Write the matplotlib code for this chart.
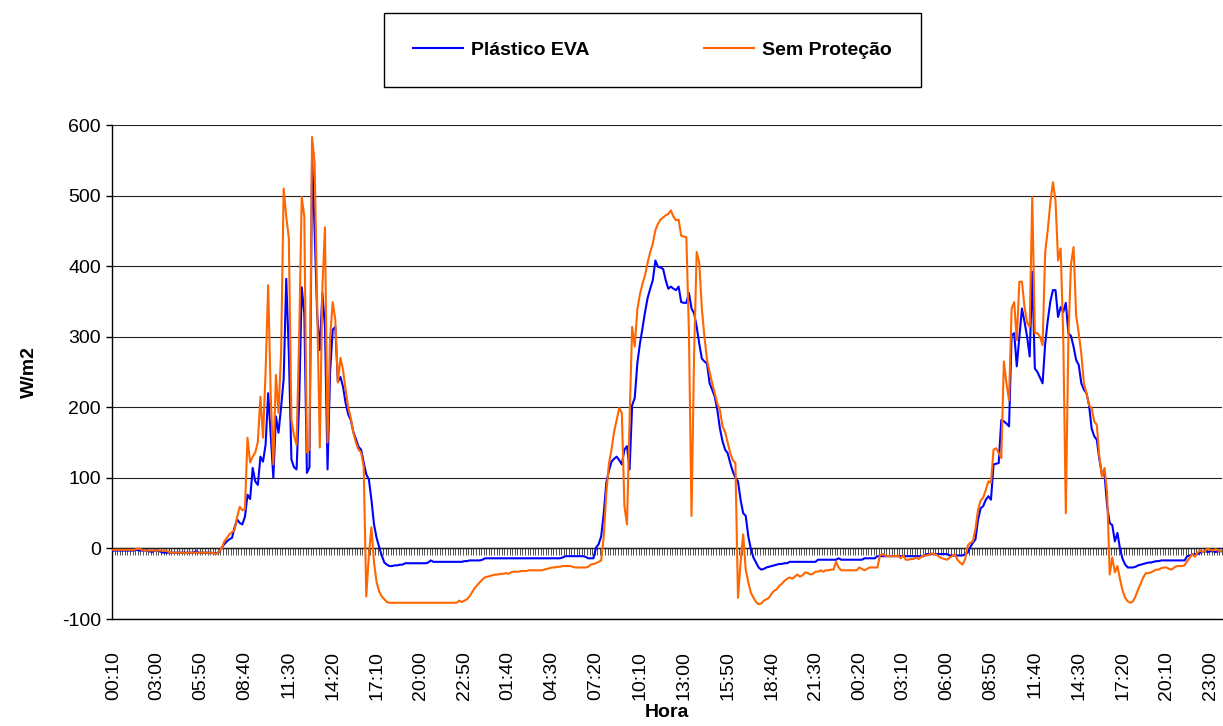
import matplotlib
matplotlib.use("Agg")
import matplotlib.pyplot as plt
import numpy as np

plt.rcParams['font.family'] = ['Liberation Sans', 'DejaVu Sans']
plt.rcParams['axes.unicode_minus'] = False

# rotulos do eixo X (um a cada 17 leituras de 10 min)
tick_labels = ["00:10", "03:00", "05:50", "08:40", "11:30", "14:20", "17:10",
               "20:00", "22:50", "01:40", "04:30", "07:20", "10:10", "13:00",
               "15:50", "18:40", "21:30", "00:20", "03:10", "06:00", "08:50",
               "11:40", "14:30", "17:20", "20:10", "23:00"]

# radiacao (W/m2) com plastico EVA, uma leitura a cada 10 min
plastico_eva = [
    -3, -3, -3, -3, -3, -3,   -3, -3, -3, -2, -3, -3,   -3, -3, -4, -5, -3, -3,
    -4, -6, -6, -6, -6, -6,   -6, -6, -6, -6, -6, -6,   -6, -6, -4, -6, -6, -6,
    -6, -6, -6, -7, -7, -5,   1, 6, 10, 13, 15, 30,     41, 36, 34, 45, 76, 70,
    114, 95, 90, 130, 123, 147,   220, 160, 100, 187, 164, 200,
    240, 382, 277, 126, 115, 112,   206, 370, 333, 107, 115, 554,
    450, 330, 281, 362, 314, 112,   250, 310, 314, 236, 243, 229,
    206, 190, 182, 165, 155, 144,   140, 122, 105, 98, 69, 34,
    15, 2, -10, -20, -23, -25,   -25, -24, -24, -23, -23, -21,
    -21, -21, -21, -21, -21, -21,   -21, -21, -20, -17, -19, -19,
    -19, -19, -19, -19, -19, -19,   -19, -19, -19, -19, -18, -18,
    -17, -17, -17, -17, -17, -16,   -14, -14, -14, -14, -14, -14,
    -14, -14, -14, -14, -14, -14,   -14, -14, -14, -14, -14, -14,
    -14, -14, -14, -14, -14, -14,   -14, -14, -14, -14, -14, -14,
    -13, -11, -11, -11, -11, -11,   -11, -11, -11, -12, -14, -14,
    -14, 1, 6, 17, 50, 93,   110, 123, 127, 130, 125, 119,
    140, 145, 112, 203, 213, 262,   290, 312, 335, 355, 368, 380,
    408, 399, 398, 396, 380, 368,   371, 368, 366, 371, 349, 348,
    348, 362, 340, 333, 314, 290,   269, 265, 262, 234, 225, 215,
    196, 170, 152, 140, 135, 121,   109, 100, 95, 69, 50, 46,
    17, -1, -13, -20, -27, -30,   -29, -27, -26, -25, -24, -23,
    -22, -22, -21, -21, -19, -19,   -19, -19, -19, -19, -19, -19,
    -19, -19, -19, -16, -16, -16,   -16, -16, -16, -16, -16, -14,
    -16, -16, -16, -16, -16, -16,   -16, -16, -16, -14, -14, -14,
    -14, -14, -11, -11, -11, -11,   -11, -11, -11, -11, -11, -11,
    -11, -11, -11, -11, -11, -11,   -11, -11, -11, -8, -8, -8,
    -8, -8, -8, -8, -8, -8,   -10, -10, -10, -10, -10, -10,
    -8, -6, 2, 8, 13, 41,   57, 60, 69, 74, 69, 119,
    120, 121, 182, 180, 177, 173,   302, 305, 258, 300, 340, 321,
    300, 272, 392, 255, 250, 242,   234, 290, 323, 350, 366, 366,
    328, 342, 335, 348, 305, 301,   286, 267, 260, 234, 225, 220,
    203, 170, 159, 154, 126, 105,   105, 60, 36, 33, 10, 22,
    -1, -15, -23, -27, -27, -27,   -26, -24, -23, -22, -21, -20,
    -20, -19, -18, -18, -17, -17,   -17, -17, -17, -17, -17, -17,
    -17, -17, -11, -10, -9, -8,   -8, -6, -5, -4, -5, -4,
    -4, -5, -4, -4,
]

# radiacao (W/m2) sem protecao
sem_protecao = [
    -2, -2, -2, -2, -2, -2,   -2, -2, -2, -1, 0, -2,   -3, -3, -3, -3, -3, -3,
    -3, -3, -3, -4, -6, -6,   -6, -6, -6, -6, -7, -6,   -6, -6, -6, -6, -6, -6,
    -6, -6, -6, -7, -8, -4,   0, 10, 15, 20, 23, 26,   45, 59, 54, 56, 157, 122,
    130, 136, 151, 215, 157, 250,   373, 215, 119, 246, 192, 277,
    510, 470, 440, 182, 160, 147,   300, 498, 470, 136, 140, 583,
    546, 340, 143, 370, 455, 150,   300, 349, 324, 235, 270, 253,
    225, 200, 185, 164, 150, 140,   136, 116, -68, -10, 30, -20,
    -48, -61, -68, -72, -76, -77,   -77, -77, -77, -77, -77, -77,
    -77, -77, -77, -77, -77, -77,   -77, -77, -77, -77, -77, -77,
    -77, -77, -77, -77, -77, -77,   -77, -77, -74, -76, -74, -72,
    -68, -62, -56, -52, -48, -44,   -41, -40, -39, -38, -37, -37,
    -36, -36, -35, -36, -34, -33,   -33, -33, -32, -32, -32, -31,
    -31, -31, -31, -31, -31, -30,   -29, -28, -27, -27, -26, -26,
    -25, -25, -25, -25, -26, -27,   -27, -27, -27, -27, -26, -23,
    -22, -21, -19, -17, 17, 79,   120, 140, 165, 182, 199, 192,
    60, 34, 182, 314, 286, 338,   360, 375, 387, 405, 420, 432,
    451, 460, 466, 469, 472, 474,   479, 470, 465, 466, 443, 442,
    441, 305, 46, 276, 420, 405,   340, 300, 267, 250, 234, 220,
    205, 196, 173, 165, 150, 135,   125, 121, -70, -20, 20, -30,
    -48, -63, -70, -76, -79, -78,   -74, -72, -70, -64, -60, -58,
    -53, -50, -46, -43, -41, -43,   -40, -37, -40, -38, -34, -35,
    -37, -36, -33, -33, -31, -33,   -31, -31, -30, -30, -19, -27,
    -31, -31, -31, -31, -31, -31,   -31, -27, -29, -31, -29, -27,
    -27, -27, -27, -10, -8, -10,   -11, -11, -11, -11, -10, -14,
    -10, -16, -16, -15, -15, -13,   -15, -12, -10, -10, -9, -7,
    -8, -9, -12, -14, -15, -16,   -13, -11, -8, -16, -20, -23,
    -15, 4, 8, 10, 28, 55,   68, 72, 83, 95, 93, 140,
    142, 135, 128, 265, 234, 210,   340, 349, 295, 378, 378, 342,
    320, 314, 498, 305, 305, 300,   288, 420, 451, 490, 519, 493,
    408, 425, 300, 50, 300, 403,   427, 330, 305, 276, 234, 220,
    203, 199, 180, 175, 130, 102,   114, 79, -37, -13, -34, -25,
    -44, -60, -70, -75, -77, -75,   -68, -58, -50, -41, -35, -35,
    -34, -32, -30, -30, -28, -27,   -27, -29, -30, -27, -25, -25,
    -25, -24, -18, -13, -8, -12,   -6, -3, -5, -4, 0, -2,
    -3, -1, -3, -4,
]

n = len(plastico_eva)
x = np.arange(n)

fig = plt.figure(figsize=(12.23, 7.26), dpi=100)
ax = fig.add_axes([112 / 1223, 1 - 619 / 726, 1110 / 1223, 494 / 726])

ax.plot(x, plastico_eva, color='#0000FF', lw=1.5, label='Plástico EVA', zorder=3)
ax.plot(x, sem_protecao, color='#FF6600', lw=1.5, label='Sem Proteção', zorder=4)

ax.set_xlim(-0.5, n - 0.5)
ax.set_ylim(-100, 600)
ax.set_yticks(range(-100, 700, 100))
ax.grid(axis='y', color='#222222', lw=0.8)
ax.set_axisbelow(True)
ax.spines['top'].set_visible(False)
ax.spines['right'].set_visible(False)
ax.spines['left'].set_linewidth(1.0)
ax.spines['bottom'].set_linewidth(1.0)

ax.set_xticks(np.arange(0, n, 17))
ax.set_xticklabels(tick_labels, rotation=90)
ax.tick_params(axis='x', length=0, pad=23, labelsize=14)
ax.tick_params(axis='y', length=4, width=1, labelsize=14, pad=4)

# eixo de categorias cruzando em y = 0 (marcas entre categorias)
sec = ax.secondary_xaxis(0, transform=ax.transData)
sec.set_xticks(np.arange(n + 1) - 0.5)
sec.tick_params(length=5, width=0.6, color='#333333', labelbottom=False)
sec.spines['bottom'].set_linewidth(1.0)

ax.set_ylabel('W/m2', fontsize=14, fontweight='bold')
ax.yaxis.set_label_coords((38 - 112) / 1110, 0.5)
ax.set_xlabel('Hora', fontsize=14, fontweight='bold')
ax.xaxis.set_label_coords(0.5, (619 - 704) / 494)

fig.legend(loc='center', bbox_to_anchor=(652.5 / 1223, 1 - 50 / 726), ncol=2,
           frameon=True, fancybox=False, edgecolor='black', framealpha=1,
           prop={'weight': 'bold', 'size': 14}, handlelength=2.57,
           handletextpad=0.41, columnspacing=5.9, borderpad=1.47)

fig.savefig('out.png', dpi=100)
